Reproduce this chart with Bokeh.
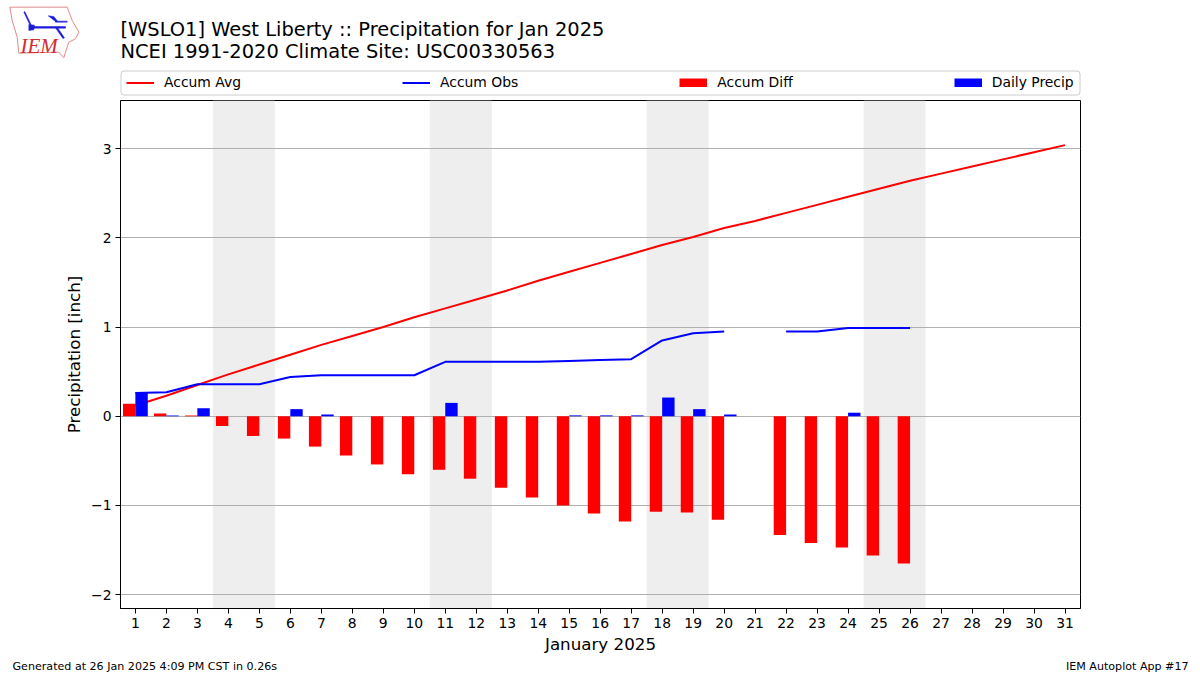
from bokeh.plotting import figure
from bokeh.layouts import column
from bokeh.models import (Range1d, FixedTicker, BoxAnnotation, Legend, LegendItem)
from bokeh.core.properties import value
from bokeh.embed import file_html
from bokeh.resources import INLINE

nan = float("nan")
days = list(range(1, 32))
accum_avg = [0.12, 0.23, 0.35, 0.47, 0.58, 0.69, 0.80, 0.90, 1.00, 1.11, 1.21, 1.31, 1.41, 1.52, 1.62, 1.72,
             1.82, 1.92, 2.01, 2.11, 2.19, 2.28, 2.37, 2.46, 2.55, 2.64, 2.72, 2.80, 2.88, 2.96, 3.04]
accum_obs = [0.26, 0.27, 0.36, 0.36, 0.36, 0.44, 0.46, 0.46, 0.46, 0.46, 0.61, 0.61, 0.61, 0.61, 0.62, 0.63,
             0.64, 0.85, 0.93, 0.95, nan, 0.95, 0.95, 0.99, 0.99, 0.99, nan, nan, nan, nan, nan]
accum_diff = [0.14, 0.03, 0.01, -0.11, -0.22, -0.25, -0.34, -0.44, -0.54, -0.65, -0.60, -0.70, -0.80, -0.91, -1.00, -1.09,
              -1.18, -1.07, -1.08, -1.16, nan, -1.33, -1.42, -1.47, -1.56, -1.65, nan, nan, nan, nan, nan]
daily = [0.27, 0.01, 0.09, nan, nan, 0.08, 0.02, nan, nan, nan, 0.15, nan, nan, nan, 0.01, 0.01,
         0.01, 0.21, 0.08, 0.02, nan, nan, nan, 0.04, nan, nan, nan, nan, nan, nan, nan]
weekends = [(3.5, 5.5), (10.5, 12.5), (17.5, 19.5), (24.5, 26.5)]
y_ticks = [-2, -1, 0, 1, 2, 3]
title_lines = ["[WSLO1] West Liberty :: Precipitation for Jan 2025", "NCEI 1991-2020 Climate Site: USC00330563"]
footer_left = "Generated at 26 Jan 2025 4:09 PM CST in 0.26s"
footer_right = "IEM Autoplot App #17"
legend_labels = ["Accum Avg", "Accum Obs", "Accum Diff", "Daily Precip"]
FONT = "DejaVu Sans"
HEAD_H = 98
FOOT_H = 17
MAIN_H = 675 - HEAD_H - FOOT_H


def strip(height, y_start, y_end):
    """A figure without axes whose data units are the page's pixels."""
    f = figure(width=1200, height=height, output_backend="svg", toolbar_location=None,
               x_range=Range1d(0, 1200), y_range=Range1d(y_start, y_end),
               min_border_left=0, min_border_right=0, min_border_top=0, min_border_bottom=0,
               outline_line_alpha=0, frame_align=False)
    f.axis.visible = False
    f.grid.visible = False
    return f


# header: logo, title and legend
head = strip(HEAD_H, HEAD_H, 0)
head.text([120, 120], [29, 51], text=title_lines, text_font=value(FONT), text_font_size="19.45px",
          text_color="black", text_align="left", text_baseline="middle")
logo_outline_x = [28, 200, 215, 235, 225, 205, 195, 190, 175, 55, 50, 35, 28]
logo_outline_y = [20, 20, 60, 95, 115, 125, 155, 172, 155, 158, 110, 60, 20]
head.line([v / 3 for v in logo_outline_x], [v / 3 for v in logo_outline_y], line_color="#e08a8a", line_width=1)
B = "#1c1cd8"
logo_shapes = [([90, 195, 195, 90], [78, 78, 83, 83]),
               ([85, 102, 100, 85], [72, 74, 88, 90]),
               ([143, 160, 172, 165], [46, 48, 63, 63]),
               ([165, 200, 200, 165], [62, 62, 65, 65]),
               ([70, 73, 93, 90], [35, 33, 75, 77]),
               ([165, 170, 192, 187], [82, 80, 112, 114])]
for xs, ys in logo_shapes:
    head.patch([v / 3 for v in xs], [v / 3 for v in ys], fill_color=B, line_color=B, line_width=0.5)
head.text([20], [45], text=["IEM"], text_font=value("Liberation Serif"), text_font_style="italic",
          text_font_size="21px", text_color="#d22d2d", text_align="left", text_baseline="middle")

head.add_layout(BoxAnnotation(left=120.5, right=1079.5, top=70.5, bottom=94.5, fill_color="white", fill_alpha=1,
                              line_color="#cccccc", line_alpha=1, line_width=1, border_radius=3, level="underlay"))
# legend keys; their own points lie outside the visible part of this strip
off_x, off_y = [-20, -10], [-20, -20]
swatches = [head.line(off_x, off_y, line_color="#ff0000", line_width=2),
            head.line(off_x, off_y, line_color="#0000ff", line_width=2),
            head.line(off_x, off_y, line_color="#ff0000", line_width=9),
            head.line(off_x, off_y, line_color="#0000ff", line_width=9)]
head.add_layout(Legend(items=[LegendItem(label=n, renderers=[r]) for n, r in zip(legend_labels, swatches)],
                       orientation="horizontal", location=(121, 3), margin=0, padding=5, spacing=161,
                       border_line_alpha=0, background_fill_alpha=0, glyph_width=28, glyph_height=9,
                       label_standoff=10, label_text_font=FONT, label_text_font_size="13.9px",
                       label_text_color="black", label_height=15, click_policy="none"))

# main chart
p = figure(width=1200, height=MAIN_H, frame_width=960, frame_height=508, output_backend="svg",
           toolbar_location=None, x_range=Range1d(0.52, 31.5), y_range=Range1d(-2.155, 3.54),
           min_border_left=120, min_border_right=120, min_border_top=2, min_border_bottom=50,
           background_fill_color="white", border_fill_color="white", frame_align=False)

for a, b in weekends:
    p.add_layout(BoxAnnotation(left=a, right=b, fill_color="#eeeeee", fill_alpha=1, line_alpha=0, level="image"))

p.xgrid.visible = False
p.ygrid.grid_line_color = "#b0b0b0"
p.ygrid.grid_line_width = 1
p.ygrid.ticker = FixedTicker(ticks=y_ticks)

p.xaxis.ticker = FixedTicker(ticks=days)
p.yaxis.ticker = FixedTicker(ticks=y_ticks)
p.yaxis.major_label_overrides = {t: str(t).replace("-", "\u2212") for t in y_ticks}
p.xaxis.axis_label = "January 2025"
p.yaxis.axis_label = "Precipitation [inch]"
for ax in (p.xaxis[0], p.yaxis[0]):
    ax.major_tick_in = 0
    ax.major_tick_out = 5
    ax.minor_tick_in = 0
    ax.minor_tick_out = 0
    ax.major_tick_line_color = "black"
    ax.axis_line_color = "black"
    ax.major_label_text_font = FONT
    ax.major_label_text_font_size = "13.9px"
    ax.major_label_text_color = "black"
    ax.axis_label_text_font = FONT
    ax.axis_label_text_font_size = "16.7px"
    ax.axis_label_text_font_style = "normal"
    ax.axis_label_text_color = "black"
p.xaxis.major_label_standoff = 4
p.yaxis.major_label_standoff = 4
p.xaxis.axis_label_standoff = 3
p.yaxis.axis_label_standoff = 4
p.outline_line_color = "black"
p.outline_line_width = 1
p.outline_line_alpha = 1

p.line(days, accum_avg, line_color="#ff0000", line_width=2)
p.vbar(x=[d - 0.2 for d in days], top=accum_diff, bottom=0, width=0.4, color="#ff0000", line_alpha=0)
p.vbar(x=[d + 0.2 for d in days], top=daily, bottom=0, width=0.4, color="#0000ff", line_alpha=0)
p.line(days, accum_obs, line_color="#0000ff", line_width=2)

# footer
foot = strip(FOOT_H, 675, 675 - FOOT_H)
foot.text([12], [666], text=[footer_left], text_font=value(FONT), text_font_size="11.1px",
          text_color="black", text_align="left", text_baseline="middle")
foot.text([1188], [666], text=[footer_right], text_font=value(FONT), text_font_size="11.1px",
          text_color="black", text_align="right", text_baseline="middle")

page = column(head, p, foot, spacing=0)
open("out.html", "w").write(file_html(page, INLINE))
